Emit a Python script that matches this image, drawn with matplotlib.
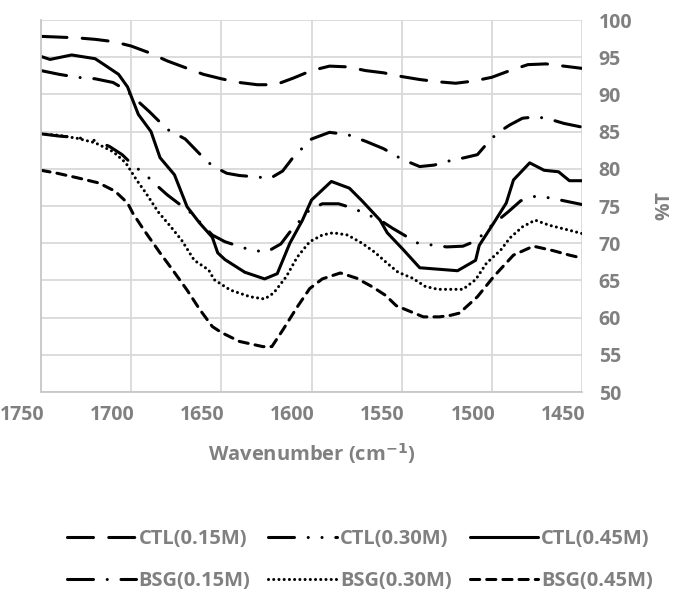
import matplotlib.pyplot as plt
from matplotlib.transforms import ScaledTranslation

# wavenumber / %T values
ctl15_x = [1750, 1740, 1730, 1720, 1710, 1700, 1690, 1680, 1670, 1660, 1650, 1640, 1630, 1620, 1610,
           1600, 1590, 1580, 1570, 1560, 1550, 1540, 1530, 1520, 1510, 1500, 1490, 1480, 1470, 1460, 1450]
ctl15_y = [97.8, 97.7, 97.6, 97.4, 97.1, 96.5, 95.6, 94.5, 93.6, 92.7, 92.1, 91.6, 91.3, 91.3, 92.2,
           93.2, 93.8, 93.7, 93.2, 92.9, 92.4, 92.0, 91.7, 91.5, 91.8, 92.3, 93.2, 94.0, 94.1, 93.8, 93.5]

ctl30_x = [1750, 1740, 1730, 1720, 1712, 1705, 1699, 1692, 1686, 1680, 1667, 1655, 1648, 1634, 1625,
           1617, 1612, 1601, 1594, 1585, 1577, 1562, 1555, 1548, 1541, 1525, 1516, 1508, 1503, 1491,
           1484, 1476, 1468, 1450]
ctl30_y = [84.7, 84.4, 84.2, 83.8, 83.0, 81.9, 80.5, 79.2, 77.8, 76.5, 74.1, 71.1, 70.2, 69.1, 68.8,
           69.9, 71.5, 74.5, 75.3, 75.3, 74.7, 73.1, 72.0, 71.0, 70.0, 69.5, 69.6, 70.4, 71.8, 74.2,
           75.7, 76.3, 76.1, 75.2]

ctl45_x = [1750, 1745, 1733, 1720, 1715, 1707, 1702, 1696, 1689, 1684, 1676, 1669, 1662, 1655, 1652,
           1648, 1637, 1626, 1619, 1612, 1605, 1600, 1589, 1579, 1572, 1562, 1558, 1549, 1540, 1519,
           1509, 1507, 1499, 1492, 1488, 1479, 1471, 1463, 1457, 1450]
ctl45_y = [95.1, 94.7, 95.3, 94.8, 94.0, 92.7, 91.0, 87.3, 85.0, 81.5, 79.2, 74.9, 72.7, 70.8, 68.7,
           67.8, 66.1, 65.2, 65.9, 70.0, 73.1, 75.8, 78.3, 77.4, 75.7, 73.1, 71.4, 69.1, 66.7, 66.3,
           67.7, 69.7, 72.7, 75.4, 78.5, 80.8, 79.8, 79.6, 78.4, 78.4]

bsg15_x = [1750, 1740, 1730, 1720, 1710, 1703, 1695, 1690, 1680, 1670, 1660, 1655, 1647, 1640, 1630,
           1623, 1616, 1610, 1600, 1590, 1580, 1570, 1560, 1550, 1540, 1532, 1523, 1515, 1508, 1503,
           1497, 1490, 1483, 1475, 1467, 1460, 1450]
bsg15_y = [93.2, 92.7, 92.3, 92.1, 91.6, 90.6, 88.8, 87.7, 85.3, 84.0, 81.5, 80.4, 79.4, 79.1, 78.9,
           78.7, 79.7, 81.6, 84.0, 84.9, 84.6, 83.7, 82.7, 81.3, 80.3, 80.5, 81.1, 81.5, 81.9, 83.3,
           84.8, 85.9, 86.8, 87.0, 86.6, 86.1, 85.6]

bsg30_x = [1750, 1740, 1730, 1720, 1710, 1703, 1697, 1692, 1685, 1678, 1672, 1665, 1657, 1654, 1645,
           1634, 1626, 1621, 1614, 1608, 1601, 1594, 1588, 1580, 1572, 1565, 1558, 1552, 1544, 1537,
           1530, 1520, 1516, 1509, 1503, 1495, 1490, 1483, 1476, 1468, 1458, 1450]
bsg30_y = [84.7, 84.5, 84.1, 83.5, 82.3, 80.8, 78.5, 76.8, 74.2, 72.2, 70.4, 67.7, 66.4, 65.1, 63.7,
           62.8, 62.5, 63.3, 65.5, 68.1, 70.2, 71.1, 71.4, 71.1, 70.0, 68.8, 67.3, 66.1, 65.3, 64.2,
           63.8, 63.8, 63.8, 65.1, 67.3, 69.1, 70.7, 72.2, 73.1, 72.4, 71.8, 71.3]

bsg45_x = [1750, 1741, 1730, 1718, 1709, 1702, 1699, 1693, 1684, 1677, 1669, 1662, 1655, 1650, 1640,
           1627, 1622, 1616, 1608, 1601, 1594, 1584, 1575, 1566, 1559, 1553, 1545, 1538, 1529, 1523,
           1518, 1508, 1499, 1488, 1477, 1466, 1457, 1450]
bsg45_y = [79.8, 79.4, 78.8, 78.1, 77.0, 75.4, 74.0, 71.8, 68.7, 66.4, 63.7, 61.1, 58.8, 58.0, 56.8,
           56.1, 56.1, 58.3, 61.4, 63.9, 65.2, 66.0, 65.3, 64.1, 63.0, 61.6, 60.8, 60.1, 60.1, 60.3,
           60.6, 62.8, 65.5, 68.4, 69.6, 69.0, 68.4, 68.0]

y_ticks = [50, 55, 60, 65, 70, 75, 80, 85, 90, 95, 100]
x_ticks = [1750, 1700, 1650, 1600, 1550, 1500, 1450]

grey = '#808080'
plt.rcParams['font.family'] = ['Open Sans', 'DejaVu Sans']
plt.rcParams['font.weight'] = 'bold'
plt.rcParams['axes.labelweight'] = 'bold'
plt.rcParams['mathtext.default'] = 'bf'

fig = plt.figure(figsize=(6.81, 5.94), dpi=100)
ax = fig.add_axes([41 / 681, 1 - 392 / 594, 541 / 681, 372 / 594])

lw = 2.2
kw = dict(color='black', lw=lw, dash_capstyle='round', solid_capstyle='round')
l1, = ax.plot(ctl15_x, ctl15_y, dashes=(8.5, 5), label='CTL(0.15M)', **kw)
l2, = ax.plot(ctl30_x, ctl30_y, dashes=(8.5, 4.5, 0.01, 4.5, 0.01, 4.5), label='CTL(0.30M)', **kw)
l3, = ax.plot(ctl45_x, ctl45_y, label='CTL(0.45M)', **kw)
l4, = ax.plot(bsg15_x, bsg15_y, dashes=(8.5, 4.5, 0.01, 4.5), label='BSG(0.15M)', **kw)
l5, = ax.plot(bsg30_x, bsg30_y, dashes=(0.01, 1.7), label='BSG(0.30M)', **kw)
l6, = ax.plot(bsg45_x, bsg45_y, dashes=(3, 2.3), label='BSG(0.45M)', **kw)

ax.set_xlim(1750, 1450)
ax.set_ylim(50, 100)
ax.set_xticks(x_ticks)
ax.set_yticks(y_ticks)
ax.yaxis.tick_right()
ax.yaxis.set_label_position('right')
ax.tick_params(length=0, labelsize=14, labelcolor=grey, pad=12)
ax.tick_params(axis='x', pad=9)
# the x labels sit a little left of their gridlines in the original
shift = ScaledTranslation(-0.19, 0, fig.dpi_scale_trans)
for lab in ax.get_xticklabels():
    lab.set_transform(lab.get_transform() + shift)
ax.grid(color='#d9d9d9', lw=1.3)
ax.set_axisbelow(True)
for s in ['top', 'right']:
    ax.spines[s].set_visible(False)
for s in ['left', 'bottom']:
    ax.spines[s].set_color('#c8c8c8')
    ax.spines[s].set_linewidth(1.3)

ax.set_xlabel('Wavenumber (cm$^{-1}$)', fontsize=14.5, color=grey, labelpad=12)
ax.set_ylabel('%T', fontsize=14, color=grey, labelpad=16)

handles = [l1, l4, l2, l5, l3, l6]
fig.legend(handles, [h.get_label() for h in handles], ncol=3, loc='center',
           bbox_to_anchor=(360 / 681, 1 - 560 / 594), frameon=False, fontsize=14.5,
           labelcolor=grey, handlelength=3.4, handletextpad=0.15, columnspacing=0.9,
           labelspacing=1.05)

fig.savefig('out.png', dpi=100)
